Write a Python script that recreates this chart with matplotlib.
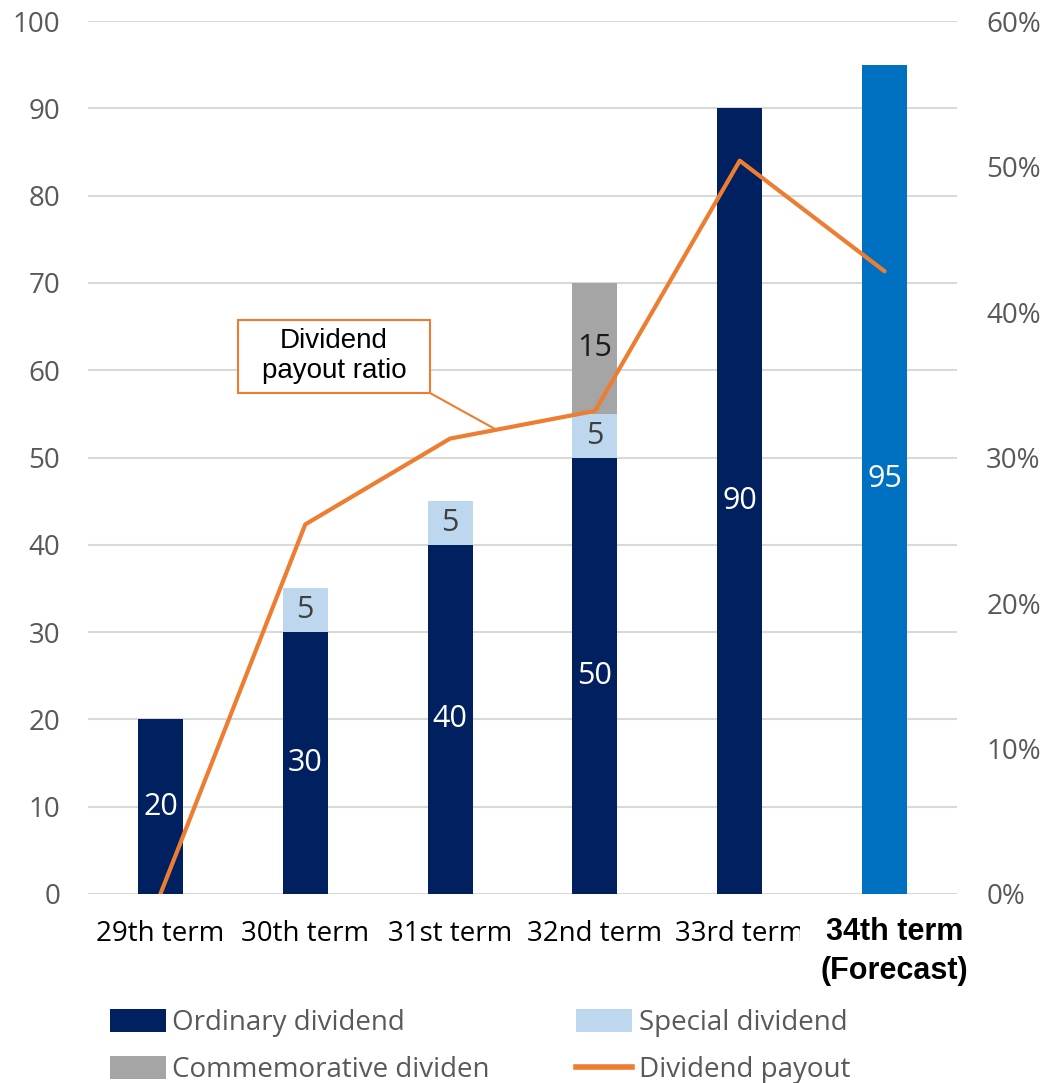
import matplotlib
matplotlib.use("Agg")
import matplotlib.pyplot as plt
import numpy as np
from matplotlib.patches import Patch, Rectangle
from matplotlib.lines import Line2D
from matplotlib.transforms import Bbox

categories = ["29th term", "30th term", "31st term", "32nd term", "33rd term", "34th term\n(Forecast)"]
ordinary = [20, 30, 40, 50, 90, 0]
special = [0, 5, 5, 5, 0, 0]
commemorative = [0, 0, 0, 15, 0, 0]
forecast = [0, 0, 0, 0, 0, 95]
payout = [0.0, 0.254, 0.313, 0.332, 0.504, 0.428]

NAVY = "#002060"
LIGHT = "#BDD7EE"
GRAY = "#A5A5A5"
BLUE = "#0070C0"
ORANGE = "#ED7D31"
TXT = "#595959"

plt.rcParams['font.family'] = ['Open Sans', 'DejaVu Sans']

fig = plt.figure(figsize=(10.45, 10.83), dpi=100)
ax = fig.add_axes([88/1045, 1-894/1083, 869/1045, 873/1083])
x = np.arange(len(categories))
w = 0.31

ax.bar(x, ordinary, w, color=NAVY, zorder=2)
ax.bar(x, special, w, bottom=ordinary, color=LIGHT, zorder=2)
bot3 = [o + s for o, s in zip(ordinary, special)]
ax.bar(x, commemorative, w, bottom=bot3, color=GRAY, zorder=2)
ax.bar(x, forecast, w, color=BLUE, zorder=2)

fs = 20
bfs = 22
for i in range(len(x)):
    if ordinary[i]:
        ax.text(x[i], ordinary[i]/2, str(ordinary[i]), ha='center', va='center', color='white', fontsize=bfs, zorder=3)
    if special[i]:
        ax.text(x[i], ordinary[i] + special[i]/2, str(special[i]), ha='center', va='center', color='#404040', fontsize=bfs, zorder=3)
    if commemorative[i]:
        ax.text(x[i], bot3[i] + commemorative[i]/2, str(commemorative[i]), ha='center', va='center', color='#1a1a1a', fontsize=bfs, zorder=3)
    if forecast[i]:
        ax.text(x[i], forecast[i]/2, str(forecast[i]), ha='center', va='center', color='white', fontsize=bfs, zorder=3)

ax.set_xlim(-0.5, 5.5)
ax.set_ylim(0, 100)
ax.set_yticks(range(0, 101, 10))
ax.yaxis.grid(True, color='#D9D9D9', linewidth=1.5, zorder=0)
ax.set_axisbelow(True)
for s in ax.spines.values():
    s.set_visible(False)
ax.tick_params(axis='y', length=0, labelsize=fs, labelcolor=TXT, pad=20)
ax.set_xticks(x)
ax.set_xticklabels([])
ax.tick_params(axis='x', length=0)

# x labels
for i, c in enumerate(categories):
    if i == 5:
        ax.text(x[i] + 0.07, -2.6, c, ha='center', va='top', fontsize=22, fontweight='bold',
                family='Liberation Sans', color='black', linespacing=1.4)
    else:
        t = ax.text(x[i], -3.0, c, ha='center', va='top', fontsize=fs, color='black')
        if i == 4:
            t.set_clip_box(Bbox.from_extents(0, 0, 800, 1083))
            t.set_clip_on(True)

ax2 = ax.twinx()
ax2.set_ylim(0, 0.6)
ax2.set_yticks(np.arange(0, 0.61, 0.1))
ax2.set_yticklabels([f"{int(round(v*100))}%" for v in np.arange(0, 0.61, 0.1)])
for s in ax2.spines.values():
    s.set_visible(False)
ax2.tick_params(axis='y', length=0, labelsize=fs, labelcolor=TXT, pad=21)
ax2.plot(x, payout, color=ORANGE, linewidth=3, solid_capstyle='round', zorder=4)

# annotation box
bx0, bx1 = (238-88)/869, (430-88)/869
by0, by1 = (894-393)/873, (894-320)/873
ax2.add_patch(Rectangle((bx0, by0), bx1-bx0, by1-by0, transform=ax2.transAxes,
                        facecolor='white', edgecolor=ORANGE, linewidth=1.5, zorder=5))
ax2.text((bx0+bx1)/2, (by0+by1)/2, "Dividend\npayout ratio", transform=ax2.transAxes,
         ha='center', va='center', fontsize=20, family='Liberation Sans', color='black',
         linespacing=1.2, zorder=6)
px = 2.32
py = np.interp(px, x, payout)
ax2.annotate('', xy=(px, py), xycoords='data', xytext=(bx1, by0), textcoords='axes fraction',
             arrowprops=dict(arrowstyle='-', color=ORANGE, lw=1.5, shrinkA=0, shrinkB=0), zorder=5)

handles = [Patch(facecolor=NAVY), Patch(facecolor=GRAY), Patch(facecolor=LIGHT),
           Line2D([], [], color=ORANGE, linewidth=4)]
labels = ["Ordinary dividend", "Commemorative dividen", "Special dividend", "Dividend payout"]
leg = fig.legend(handles, labels, ncol=2, loc='upper left', bbox_to_anchor=(110/1045, 1-1009/1083),
                 frameon=False, fontsize=20, handlelength=2.0, handleheight=0.9, handletextpad=0.25,
                 columnspacing=3.1, labelspacing=0.68, borderaxespad=0, borderpad=0)
for t in leg.get_texts():
    t.set_color(TXT)

fig.savefig("out.png", dpi=100)
